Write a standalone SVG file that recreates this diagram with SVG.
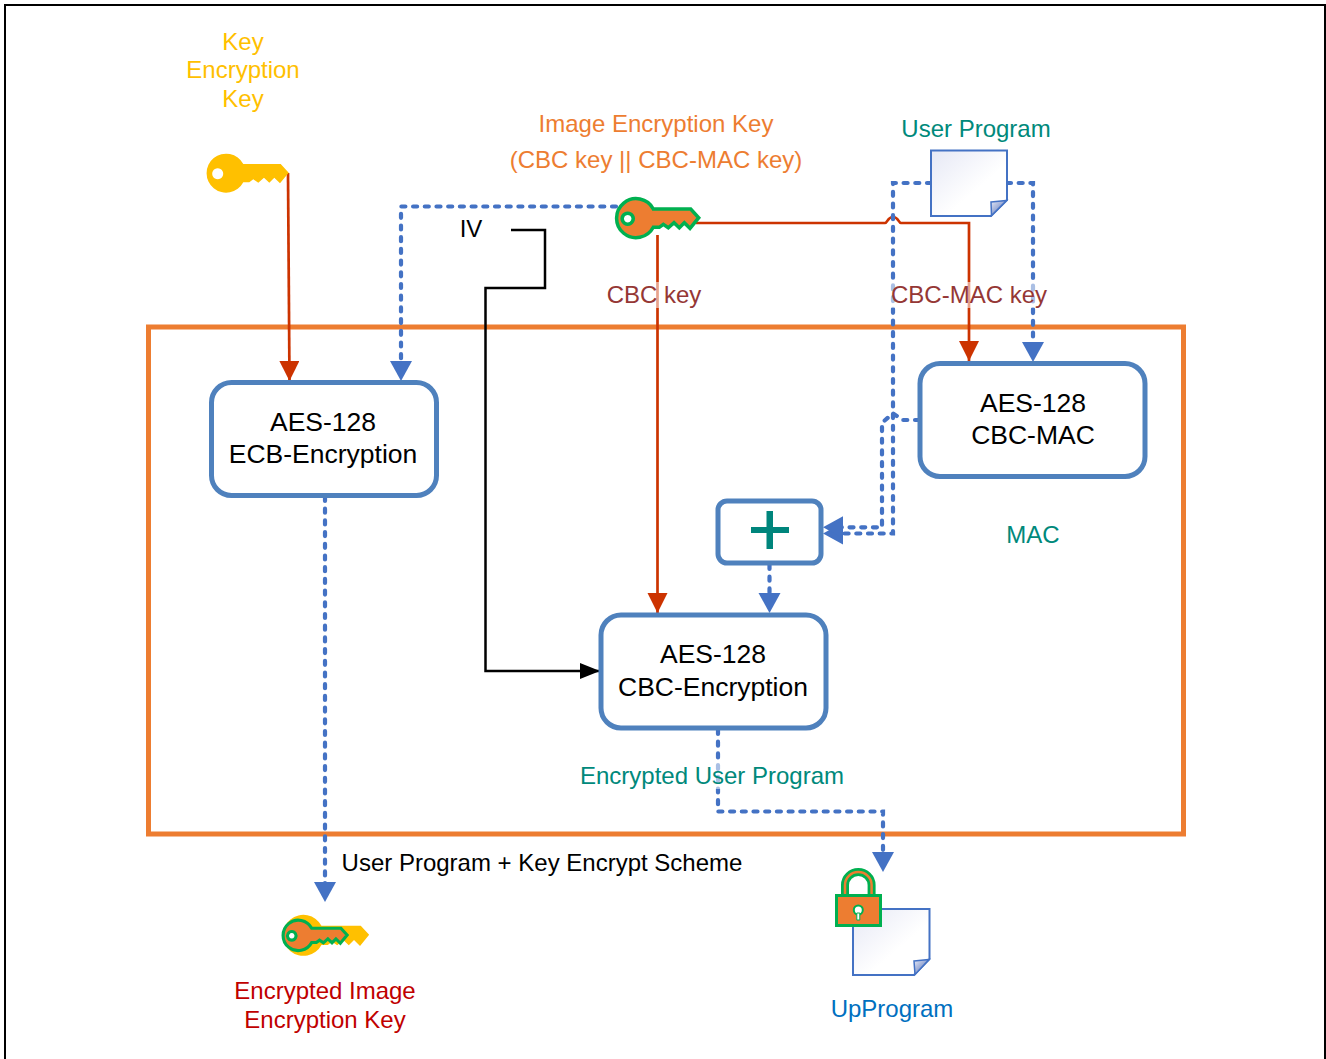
<svg xmlns="http://www.w3.org/2000/svg" width="1326" height="1059" viewBox="0 0 1326 1059">
<style>
text{font-family:"Liberation Sans",Arial,sans-serif;font-size:24px;text-anchor:middle}
.b{font-size:26.500px}
.box{fill:#fff;stroke:#4F81BD;stroke-width:5}
.red{fill:none;stroke:#CC3300;stroke-width:2.700}
.blue{fill:none;stroke:#4472C4;stroke-width:4.200;stroke-dasharray:4 7.700;stroke-linecap:round}
.blk{fill:none;stroke:#000;stroke-width:2.500}
.doc{fill:url(#pg);stroke:#4472C4;stroke-width:2}
.fold{fill:url(#fd);stroke:#4472C4;stroke-width:1.500}
.halo{fill:#fff;fill-opacity:.55}
</style>
<defs>
<linearGradient id="pg" x1="0" y1="0" x2="1" y2="1"><stop offset="0" stop-color="#E6E8F5"/><stop offset=".6" stop-color="#fff"/></linearGradient>
<linearGradient id="fd" x1="0" y1="0" x2="1" y2="1"><stop offset="0" stop-color="#E8EBF7"/><stop offset="1" stop-color="#3F5FAF"/></linearGradient>
<marker id="ar" markerUnits="userSpaceOnUse" markerWidth="22" markerHeight="22" refX="20" refY="10" orient="auto"><path d="M0 0L20 10L0 20Z" fill="#CC3300"/></marker>
<marker id="ab" markerUnits="userSpaceOnUse" markerWidth="22" markerHeight="24" refX="8" refY="11" orient="auto"><path d="M0 0L20 11L0 22Z" fill="#4472C4"/></marker>
<marker id="ak" markerUnits="userSpaceOnUse" markerWidth="22" markerHeight="22" refX="20" refY="10" orient="auto"><path d="M0 2L20 10L0 18Z" fill="#000"/></marker>
<path id="key" fill-rule="evenodd" d="M17.600 -9.300H55L63 -0.600L54.300 10L48.600 4.400L43.600 9.400L38.300 4.400L32.600 9.400L27.600 6L23.600 9H17.600A19.500 19.500 0 1 1 17.600 -9.300ZM-8 -5.100a5.500 5.500 0 1 0 .01 0Z"/>
</defs>
<rect x="5" y="5" width="1320" height="1060" fill="#fff" stroke="#000" stroke-width="2"/>
<rect x="148.500" y="327" width="1035" height="507" fill="none" stroke="#ED7D31" stroke-width="5"/>

<g id="connectors">
<path class="red" d="M288 173L289.500 381" marker-end="url(#ar)"/>
<path class="red" d="M657.500 235V613" marker-end="url(#ar)"/>
<path class="red" d="M696 223H885c2.500 0 2.500-6 8-6s5.500 6 8 6H969V361" marker-end="url(#ar)"/>
<path class="blue" d="M616 206.500H401V369" marker-end="url(#ab)"/>
<path class="blk" d="M511 230H545V288H485.500V671H600" marker-end="url(#ak)"/>
<path class="blue" d="M931 183H893V533.500H835" marker-end="url(#ab)"/>
<path class="blue" d="M1007 183H1033V350" marker-end="url(#ab)"/>
<path class="blue" d="M919 420H903L892.700 413.300L882 423V527.300H835" marker-end="url(#ab)"/>
<path class="blue" d="M769.500 565V601" marker-end="url(#ab)"/>
<path class="blue" d="M325 497V890" marker-end="url(#ab)"/>
<path class="blue" d="M718 730V811.500H883V860" marker-end="url(#ab)"/>
</g>

<g id="ecb"><rect class="box" x="211.500" y="382.500" width="225" height="113" rx="20"/><text class="b" x="323" y="431">AES-128</text><text class="b" x="323" y="463">ECB-Encryption</text></g>
<g id="mac"><rect class="box" x="920" y="363.500" width="225" height="113" rx="20"/><text class="b" x="1033" y="412">AES-128</text><text class="b" x="1033" y="444">CBC-MAC</text></g>
<g id="cbc"><rect class="box" x="601" y="615" width="225" height="113" rx="20"/><text class="b" x="713" y="663">AES-128</text><text class="b" x="713" y="696">CBC-Encryption</text></g>
<g id="plus"><rect class="box" x="718" y="501" width="103" height="62" rx="9"/><path d="M751 527H766.500V511H773V527H789V533H773V549H766.500V533H751Z" fill="#00857C"/></g>

<g id="kek"><use href="#key" x="225.700" y="173.300" fill="#FFC000"/><g fill="#FFC000"><text x="243" y="50">Key</text><text x="243" y="78">Encryption</text><text x="243" y="107">Key</text></g></g>
<g id="iek"><use href="#key" x="635.700" y="218.300" fill="#ED7D31" stroke="#00B050" stroke-width="3.500"/><g fill="#ED7D31"><text x="656" y="132">Image Encryption Key</text><text x="656" y="168">(CBC key || CBC-MAC key)</text></g></g>
<g id="userprog"><path class="doc" d="M931 150.500H1007V200L991 216H931Z"/><path class="fold" d="M991 202L1006.500 200.500L991.500 215.500Z"/><text x="976" y="137" fill="#00897B">User Program</text></g>
<g id="ekey"><use href="#key" transform="translate(303 935.500) scale(1.050)" fill="#FFC000"/><use href="#key" transform="translate(298 935.500) scale(.78)" fill="#ED7D31" stroke="#00B050" stroke-width="4"/><g fill="#C00000"><text x="325" y="999">Encrypted Image</text><text x="325" y="1028">Encryption Key</text></g></g>
<g id="upprog"><path class="doc" d="M853 909H929.500V959L914 975H853Z"/><path class="fold" d="M914 961L929 959.500L915 974.500Z"/>
<path d="M845 895V885a13.300 13 0 0 1 26.600 0V895" fill="none" stroke="#00B050" stroke-width="8"/><path d="M845 895V885a13.300 13 0 0 1 26.600 0V895" fill="none" stroke="#ED7D31" stroke-width="2.500"/>
<rect x="836.500" y="895.500" width="44" height="30" fill="#ED7D31" stroke="#00B050" stroke-width="3"/><circle cx="858.300" cy="910" r="4.500" fill="#fff" stroke="#00B050" stroke-width="2"/><path d="M856.800 913H859.800V920H856.800Z" fill="#fff" stroke="#00B050"/>
<text x="892" y="1017" fill="#0070C0">UpProgram</text></g>
<g id="labels">
<rect class="halo" x="890" y="282" width="158" height="26"/>
<rect class="halo" x="605" y="282" width="98" height="26"/>
<rect class="halo" x="580" y="763" width="264" height="26"/>
<text x="471" y="237" fill="#000">IV</text>
<text x="654" y="303" fill="#953735">CBC key</text>
<text x="969" y="303" fill="#953735">CBC-MAC key</text>
<text x="1033" y="543" fill="#00897B">MAC</text>
<text x="712" y="784" fill="#00897B">Encrypted User Program</text>
<text x="542" y="871" fill="#000">User Program + Key Encrypt Scheme</text>
</g>
</svg>
